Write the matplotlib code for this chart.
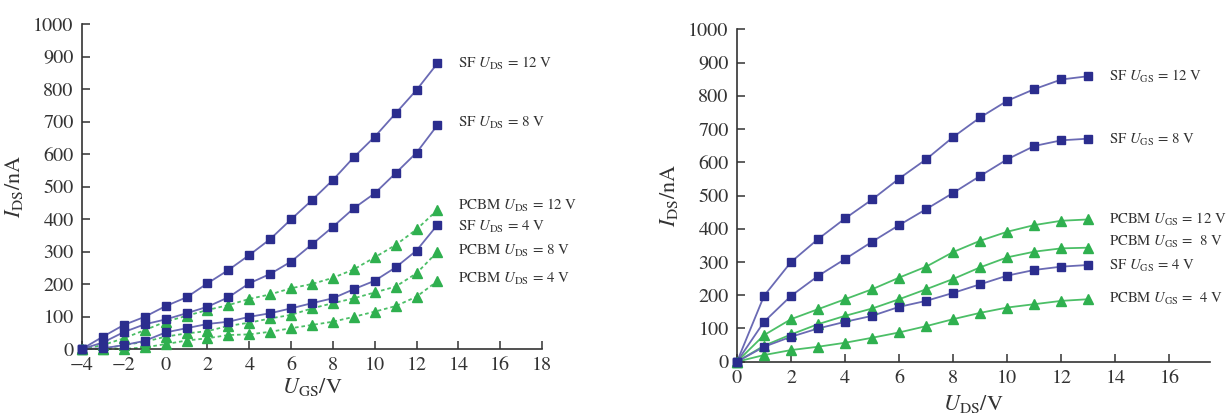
import matplotlib
matplotlib.use("Agg")
import matplotlib.pyplot as plt
import numpy as np

plt.rcParams["font.family"] = ["STIXGeneral", "DejaVu Serif"]
plt.rcParams["mathtext.fontset"] = "stix"

# ---- transfer curves: I_DS vs U_GS ----
ugs = np.arange(-4, 14)
sf_uds12 = [0, 38, 74, 99, 132, 159, 202, 243, 289, 338, 399, 458, 520, 590, 653, 725, 797, 879]
sf_uds8 = [0, 20, 52, 76, 91, 110, 130, 159, 202, 231, 269, 322, 376, 433, 479, 541, 604, 689]
sf_uds4 = [0, 2, 12, 25, 51, 64, 77, 84, 99, 110, 125, 141, 156, 184, 210, 251, 303, 382]
pcbm_uds12 = [0, 12, 33, 58, 84, 102, 120, 135, 154, 168, 187, 200, 219, 245, 282, 320, 368, 428]
pcbm_uds8 = [0, 0, 12, 22, 38, 48, 55, 71, 81, 94, 105, 125, 141, 156, 174, 192, 233, 299]
pcbm_uds4 = [0, 0, 0, 5, 15, 26, 33, 43, 45, 53, 64, 74, 84, 99, 115, 132, 161, 209]

# ---- output curves: I_DS vs U_DS ----
uds = np.arange(0, 14)
sf_ugs12 = [0, 198, 300, 369, 431, 488, 551, 609, 676, 735, 785, 820, 849, 859]
sf_ugs8 = [0, 120, 198, 258, 309, 361, 411, 459, 508, 559, 609, 649, 666, 671]
sf_ugs4 = [0, 45, 75, 100, 120, 138, 165, 183, 207, 233, 259, 276, 286, 291]
pcbm_ugs12 = [0, 80, 128, 158, 188, 218, 253, 286, 330, 364, 391, 411, 424, 428]
pcbm_ugs8 = [0, 48, 82, 113, 138, 160, 188, 218, 249, 284, 314, 331, 341, 343]
pcbm_ugs4 = [0, 20, 35, 45, 57, 72, 88, 107, 128, 147, 163, 173, 183, 188]

left_labels = [r"SF $\mathit{U}_{\mathrm{DS}}$ = 12 V", r"SF $\mathit{U}_{\mathrm{DS}}$ = 8 V",
               r"PCBM $\mathit{U}_{\mathrm{DS}}$ = 12 V", r"SF $\mathit{U}_{\mathrm{DS}}$ = 4 V",
               r"PCBM $\mathit{U}_{\mathrm{DS}}$ = 8 V", r"PCBM $\mathit{U}_{\mathrm{DS}}$ = 4 V"]
right_labels = [r"SF $\mathit{U}_{\mathrm{GS}}$ = 12 V", r"SF $\mathit{U}_{\mathrm{GS}}$ = 8 V",
                r"PCBM $\mathit{U}_{\mathrm{GS}}$ = 12 V", r"PCBM $\mathit{U}_{\mathrm{GS}}$ =  8 V",
                r"SF $\mathit{U}_{\mathrm{GS}}$ = 4 V", r"PCBM $\mathit{U}_{\mathrm{GS}}$ =  4 V"]
left_label_y = [880, 695, 443, 375, 302, 215]
right_label_y = [859, 666, 428, 361, 288, 190]

BLUE = "#2b2d8e"
BLUE_LINE = "#6a6ab4"
GREEN = "#2fb04f"
GREEN_LINE = "#4cbf67"

fig = plt.figure(figsize=(12.32, 4.16), dpi=100)
ax1 = fig.add_axes([82 / 1232, 1 - 349 / 416, 460 / 1232, 325 / 416])
ax2 = fig.add_axes([737 / 1232, 1 - 361.7 / 416, 473 / 1232, 332.4 / 416])


def sf_curve(ax, x, y):
    ax.plot(x, y, color=BLUE_LINE, lw=1.3, zorder=2, clip_on=False)
    ax.plot(x, y, ls="none", marker="s", ms=6.3, color=BLUE, zorder=3, clip_on=False)


def pcbm_curve(ax, x, y, ls):
    ax.plot(x, y, color=GREEN_LINE, lw=1.3, ls=ls, zorder=2, clip_on=False)
    ax.plot(x, y, ls="none", marker="^", ms=6.5, color=GREEN, zorder=3, clip_on=False)


dotted = (0, (2.0, 1.6))
for series in (pcbm_uds12, pcbm_uds8, pcbm_uds4):
    pcbm_curve(ax1, ugs, series, dotted)
for series in (sf_uds12, sf_uds8, sf_uds4):
    sf_curve(ax1, ugs, series)

for series in (pcbm_ugs12, pcbm_ugs8, pcbm_ugs4):
    pcbm_curve(ax2, uds, series, "-")
for series in (sf_ugs12, sf_ugs8, sf_ugs4):
    sf_curve(ax2, uds, series)

for lab, y in zip(left_labels, left_label_y):
    ax1.text(14.0, y, lab, fontsize=10.8, va="center", ha="left", color="#333333")
for lab, y in zip(right_labels, right_label_y):
    ax2.text(13.75, y, lab, fontsize=10.6, va="center", ha="left", color="#333333")

for ax in (ax1, ax2):
    ax.spines["top"].set_visible(False)
    ax.spines["right"].set_visible(False)
    for s in ("left", "bottom"):
        ax.spines[s].set_linewidth(1.2)
        ax.spines[s].set_color("#333333")
    ax.set_ylim(0, 1000)
    ax.set_yticks(np.arange(0, 1001, 100))
    ax.tick_params(direction="in", length=6, width=1.1, labelsize=14.5, colors="#333333",
                   labelcolor="#333333", pad=6)

ax1.set_xlim(-4, 18)
ax1.set_xticks(np.arange(-4, 19, 2))
ax2.set_xlim(0, 17.5)
ax2.set_xticks(np.arange(0, 17, 2))

ax1.set_ylabel(r"$\mathit{I}_{\mathrm{DS}}$/nA", fontsize=16, color="#333333", labelpad=6)
ax1.set_xlabel(r"$\mathit{U}_{\mathrm{GS}}$/V", fontsize=16, color="#333333", labelpad=1)
ax2.set_ylabel(r"$\mathit{I}_{\mathrm{DS}}$/nA", fontsize=16, color="#333333", labelpad=6)
ax2.set_xlabel(r"$\mathit{U}_{\mathrm{DS}}$/V", fontsize=16, color="#333333", labelpad=4)

fig.savefig("out.png", dpi=100)
